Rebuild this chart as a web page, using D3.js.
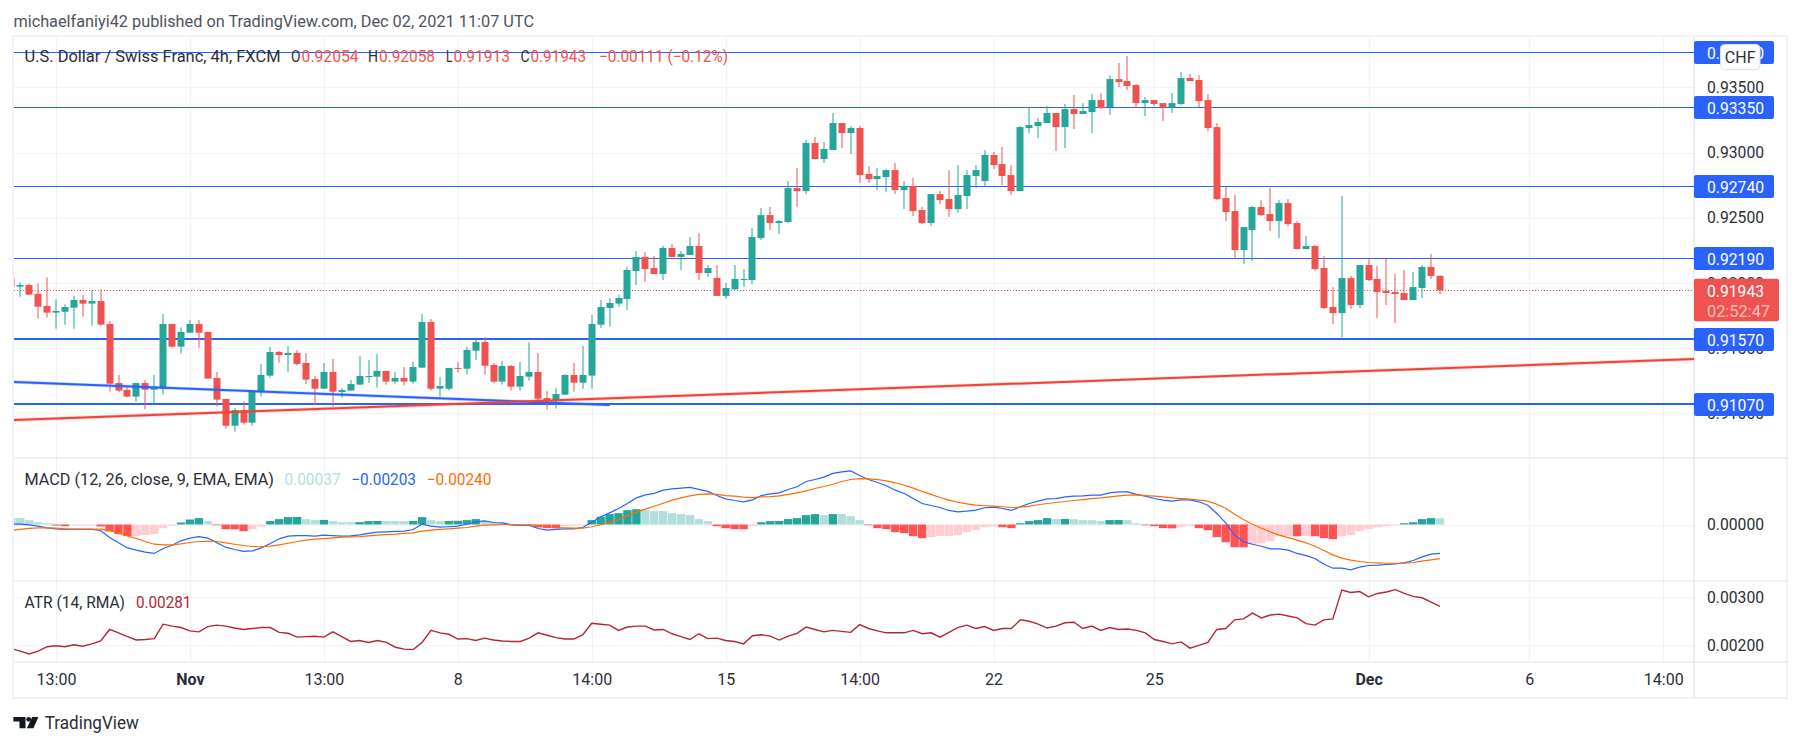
<!DOCTYPE html>
<html>
<head>
<meta charset="utf-8">
<script src="https://cdn.jsdelivr.net/npm/d3@7/dist/d3.min.js"></script>
<style>
  body { margin: 0; background: #fff; }
  text { font-family: Roboto, sans-serif; }
</style>
</head>
<body>
<svg id="chart" width="1802" height="746"></svg>
<script>
// bar numbers: first entry is the cut off bar at the left edge (-1), last is 159
const firstBar = -1;

// prices, in 1/100000
const opens = [92043,
  91971,91984,91915,91823,91772,91779,91810,91869,91841,91861,
  91685,91232,91179,91128,91232,91181,91189,91685,91511,91618,
  91685,91624,91271,91110,90905,91025,90928,91163,91289,91470,
  91447,91463,91386,91263,91189,91317,91163,91174,91220,91278,
  91281,91325,91243,91271,91243,91350,91700,91189,91189,91348,
  91342,91480,91547,91371,91243,91363,91204,91281,91317,91117,
  91102,91143,91294,91235,91289,91680,91808,91841,91877,92091,
  92199,92114,92068,92268,92199,92214,92283,92076,92038,91900,
  91951,92022,92022,92344,92520,92459,92467,92727,92704,93073,
  92950,93019,93226,93149,93188,92835,92796,92812,92865,92712,
  92743,92559,92459,92681,92643,92566,92666,92820,92781,92981,
  92911,92827,92704,93188,93203,93226,93303,93195,93333,93295,
  93310,93402,93349,93563,93548,93517,93379,93402,93379,93346,
  93372,93571,93556,93402,93195,92651,92551,92252,92405,92582,
  92528,92474,92612,92459,92260,92283,92114,91815,91769,92037,
  91830,92137,92030,91938,91930,91922,91869,91961,92122,92054];
const highs = [92043,
  92004,91997,91997,92043,91874,91836,91900,91907,91946,91951,
  91708,91294,91199,91232,91255,91294,91762,91685,91659,91716,
  91716,91624,91317,91110,91041,91092,91179,91378,91509,91478,
  91516,91486,91463,91286,91386,91417,91194,91255,91440,91409,
  91455,91325,91317,91355,91394,91762,91723,91278,91348,91394,
  91509,91570,91585,91386,91401,91371,91394,91547,91463,91171,
  91194,91299,91386,91516,91754,91869,91884,91907,92122,92245,
  92237,92206,92283,92298,92245,92352,92383,92137,92137,92000,
  92137,92107,92421,92574,92582,92482,92781,92881,93096,93119,
  93080,93303,93226,93203,93203,92896,92881,92873,92919,92781,
  92804,92582,92681,92704,92865,92904,92865,92904,93019,93004,
  93042,92904,93203,93346,93264,93356,93303,93372,93441,93379,
  93448,93456,93594,93686,93740,93525,93425,93402,93379,93456,
  93617,93602,93594,93448,93226,92735,92674,92428,92589,92635,
  92727,92635,92643,92474,92359,92290,92206,91968,92666,92053,
  92137,92183,92129,92183,92068,92099,92083,92137,92221,92058];
const lows = [91971,
  91894,91907,91726,91733,91649,91680,91649,91741,91672,91672,
  91166,91161,91123,91089,91031,91066,91143,91503,91457,91618,
  91503,91266,91051,90882,90859,90913,90905,91128,91273,91388,
  91317,91365,91225,91064,91189,91051,91120,91171,91217,91232,
  91197,91220,91227,91212,91227,91348,91174,91128,91174,91312,
  91296,91409,91296,91232,91220,91174,91174,91250,91102,91028,
  91036,91143,91166,91189,91189,91654,91664,91815,91792,91984,
  92007,92068,92022,92199,92099,92214,92022,92045,91900,91877,
  91946,91969,91991,92329,92405,92375,92459,92582,92681,92950,
  92919,93019,93034,92988,92766,92766,92712,92697,92681,92566,
  92513,92451,92436,92605,92505,92536,92566,92727,92740,92873,
  92750,92674,92704,93149,93111,93226,93011,93034,93180,93295,
  93149,93333,93287,93502,93479,93341,93280,93356,93241,93303,
  93364,93548,93349,93165,92635,92474,92191,92145,92168,92513,
  92398,92344,92436,92260,92260,92091,91800,91685,91582,91800,
  91807,92014,91731,91830,91692,91869,91869,91884,92030,91913];
const closes = [91971,
  91984,91910,91818,91772,91785,91815,91869,91841,91861,91680,
  91227,91174,91128,91232,91181,91197,91685,91511,91624,91685,
  91618,91266,91105,90905,91025,90928,91169,91294,91470,91447,
  91463,91378,91258,91189,91317,91166,91179,91225,91286,91286,
  91325,91243,91271,91243,91355,91700,91189,91209,91348,91342,
  91486,91547,91365,91243,91363,91204,91286,91317,91112,91097,
  91148,91294,91235,91294,91685,91815,91846,91884,92099,92199,
  92107,92068,92268,92199,92222,92283,92076,92114,91900,91961,
  92030,92030,92352,92520,92459,92474,92727,92704,93073,92950,
  93027,93226,93149,93188,92827,92796,92820,92865,92712,92743,
  92551,92459,92681,92635,92566,92674,92827,92865,92981,92904,
  92820,92704,93195,93211,93234,93303,93195,93333,93295,93318,
  93402,93341,93563,93540,93510,93379,93402,93372,93346,93379,
  93571,93548,93395,93188,92643,92543,92252,92428,92582,92520,
  92474,92612,92451,92260,92283,92106,91807,91769,92037,91830,
  92137,92022,91930,91922,91915,91869,91968,92122,92053,91943];

// indicators, in 1/100000
const macdHist = [47,
  47,31,16,9,-7,-12,-7,-7,-7,-14,
  -49,-68,-82,-82,-75,-68,-26,-7,14,35,
  45,24,-5,-33,-34,-47,-33,-14,24,38,
  52,53,38,31,32,24,16,16,17,24,
  25,24,24,24,25,52,31,24,25,26,
  31,38,24,14,9,-5,-5,-7,-21,-26,
  -27,-12,-9,-9,31,54,73,80,101,108,
  101,94,94,80,73,66,38,24,-12,-26,
  -33,-34,-12,16,24,25,38,45,66,73,
  66,73,73,59,31,-5,-26,-33,-54,-61,
  -82,-96,-89,-82,-82,-75,-54,-40,-19,-14,
  -19,-26,9,24,31,45,38,39,38,31,
  31,24,31,32,31,9,-5,-12,-26,-27,
  -19,-12,-26,-40,-89,-125,-160,-161,-139,-132,
  -118,-82,-82,-83,-82,-83,-96,-103,-82,-75,
  -47,-33,-19,-12,-5,9,16,38,45,44];
const macdLine = [2,
  2,-2,-12,-24,-31,-35,-35,-35,-35,-42,
  -92,-129,-165,-181,-195,-204,-169,-146,-115,-96,
  -85,-96,-129,-160,-176,-190,-186,-165,-134,-101,
  -82,-78,-78,-82,-75,-78,-82,-80,-73,-63,
  -54,-52,-49,-47,-35,2,-12,-19,-16,-12,
  2,19,26,14,12,-2,-7,-7,-28,-40,
  -35,-31,-31,-21,16,54,82,113,148,188,
  209,219,242,251,256,261,247,233,204,181,
  169,160,174,204,216,223,247,266,303,317,
  334,360,371,378,345,317,296,273,242,219,
  183,148,134,120,99,89,94,101,118,122,
  113,99,125,148,165,181,183,195,200,202,
  207,207,223,230,230,212,200,183,172,165,
  174,174,160,136,78,12,-75,-122,-139,-153,
  -172,-172,-181,-204,-219,-240,-280,-308,-308,-320,
  -301,-289,-287,-282,-277,-270,-254,-228,-209,-203];
const signalLine = [-42,
  -35,-28,-24,-24,-26,-31,-33,-33,-33,-33,
  -42,-59,-80,-99,-120,-139,-143,-143,-136,-127,
  -120,-118,-120,-129,-139,-148,-155,-157,-153,-143,
  -132,-120,-110,-103,-99,-94,-89,-87,-85,-80,
  -75,-71,-68,-63,-59,-47,-40,-35,-31,-26,
  -21,-12,-5,-2,0,0,-2,-2,-7,-16,
  -21,-24,-26,-26,-16,-2,12,35,61,87,
  108,129,150,172,188,202,212,216,212,204,
  200,193,190,195,197,202,212,223,237,254,
  268,284,303,317,324,322,317,308,294,277,
  256,233,212,190,172,157,146,136,132,129,
  125,120,122,129,139,148,155,162,169,176,
  183,188,195,202,207,209,204,200,195,188,
  183,179,172,165,143,115,73,35,2,-26,
  -52,-75,-92,-110,-129,-153,-183,-214,-237,-251,
  -261,-268,-270,-273,-273,-273,-268,-258,-249,-240];
const atrLine = [193,
  188,182,188,197,199,197,201,198,203,209,
  233,226,218,211,212,214,244,240,237,230,
  228,239,242,240,236,233,235,237,237,227,
  225,217,218,219,217,228,218,208,210,206,
  210,206,196,192,191,206,231,226,223,213,
  214,210,215,211,209,208,208,215,226,221,
  216,213,213,222,246,244,242,231,238,240,
  240,232,233,224,218,212,224,214,215,210,
  208,203,220,222,219,211,219,225,238,233,
  228,231,229,227,243,235,230,226,226,226,
  231,224,226,217,227,237,242,235,239,231,
  235,235,253,250,244,236,240,247,248,235,
  240,231,237,233,234,231,226,212,208,203,
  207,194,200,206,233,235,253,255,267,257,
  263,265,261,257,245,242,253,255,315,310,
  312,301,308,311,316,308,302,299,290,281];

// drawn levels and trend lines
const levels = [0.9377, 0.9335, 0.9274, 0.9219, 0.9157, 0.9107];
const heavyLevels = [0.9157, 0.9107];
const trendRed = [[-0.7, 0.90949], [187.5, 0.91416]];
const trendBlue = [[-0.7, 0.9124], [66, 0.91064]];
const lastPrice = 0.91943;

// ticks
const priceTicks = [0.935, 0.93, 0.925, 0.92, 0.915, 0.91];
const macdTicks = [0];
const atrTicks = [0.003, 0.002];
const timeBars = [4, 19, 34, 49, 64, 79, 94, 109, 127, 151, 169, 184];
const timeLabels = ['13:00', 'Nov', '13:00', '8', '14:00', '15', '14:00', '22', '25', 'Dec', '6', '14:00'];
const boldLabels = ['Nov', 'Dec'];

const UP = '#26a69a', DOWN = '#ef5350', BLUE = '#2962ff', INK = '#2a2e39', GRID = '#f0f3fa', LINE = '#e0e3eb';
const FONT = 16, ATR = '#b22833';
const left = 14, right = 1694;
const svg = d3.select('#chart');

const bars = opens.map((o, i) => ({
  bar: firstBar + i, o: o / 1e5, h: highs[i] / 1e5, l: lows[i] / 1e5, c: closes[i] / 1e5,
  hist: macdHist[i] / 1e5, macd: macdLine[i] / 1e5, signal: signalLine[i] / 1e5, atr: atrLine[i] / 1e5
}));

const x = d3.scaleLinear().domain([-1, 159]).range([11.37, 1440]);
const yPrice = d3.scaleLinear().domain([0.935, 0.91]).range([87.3, 413.3]);
const yMacd = d3.scaleLinear().domain([0, -0.00203]).range([524.5, 553.3]);
const yAtr = d3.scaleLinear().domain([0.003, 0.002]).range([597.3, 645.3]);
const crisp = v => Math.round(v) + 0.5;

svg.append('clipPath').attr('id', 'plot').append('rect')
  .attr('x', left).attr('y', 37).attr('width', right - left).attr('height', 625);

// frame and pane lines
svg.append('rect').attr('x', 13).attr('y', 36).attr('width', 1774).attr('height', 662)
  .attr('fill', 'none').attr('stroke', GRID).attr('stroke-width', 2);

// grid
const grid = svg.append('g').attr('stroke', GRID).attr('stroke-width', 1);
timeBars.forEach(b => {
  grid.append('line').attr('x1', crisp(x(b))).attr('x2', crisp(x(b))).attr('y1', 37).attr('y2', 662);
});
function hgrid(scale, ticks) {
  ticks.forEach(t => {
    grid.append('line').attr('x1', left).attr('x2', right).attr('y1', crisp(scale(t))).attr('y2', crisp(scale(t)));
  });
}
hgrid(yPrice, priceTicks);
hgrid(yMacd, macdTicks);
hgrid(yAtr, atrTicks);

[458, 581, 662].forEach(y => {
  svg.append('line').attr('x1', left).attr('x2', 1787).attr('y1', y).attr('y2', y)
    .attr('stroke', LINE).attr('stroke-width', 1.2);
});
svg.append('line').attr('x1', right).attr('x2', right).attr('y1', 37).attr('y2', 698)
  .attr('stroke', LINE).attr('stroke-width', 1.2);

const plot = svg.append('g').attr('clip-path', 'url(#plot)');

// horizontal levels
levels.forEach(l => {
  const heavy = heavyLevels.includes(l);
  const y = heavy ? Math.round(yPrice(l)) : crisp(yPrice(l));
  plot.append('line').attr('x1', left).attr('x2', right).attr('y1', y).attr('y2', y)
    .attr('stroke', BLUE).attr('stroke-width', heavy ? 2 : 1);
});

// current price
plot.append('line').attr('x1', left).attr('x2', right)
  .attr('y1', crisp(yPrice(lastPrice))).attr('y2', crisp(yPrice(lastPrice)))
  .attr('stroke', DOWN).attr('stroke-dasharray', '1 2');

// candles
const candle = plot.append('g').selectAll('g').data(bars).join('g')
  .attr('fill', d => d.c >= d.o ? UP : DOWN)
  .attr('stroke', 'none');
candle.append('rect')
  .attr('x', d => Math.round(x(d.bar)) - 0.5)
  .attr('width', 1)
  .attr('y', d => yPrice(d.h))
  .attr('height', d => yPrice(d.l) - yPrice(d.h));
candle.append('rect')
  .attr('x', d => Math.round(x(d.bar)) - 3.5)
  .attr('width', 7)
  .attr('y', d => yPrice(Math.max(d.o, d.c)))
  .attr('height', d => Math.max(1, Math.abs(yPrice(d.o) - yPrice(d.c))));

// trend lines
const trend = d3.line().x(d => x(d[0])).y(d => yPrice(d[1]));
[[trendBlue, BLUE], [trendRed, '#f44336']].forEach(([pts, col]) => {
  plot.append('path').attr('d', trend(pts)).attr('fill', 'none')
    .attr('stroke', col).attr('stroke-width', 3.4).attr('stroke-opacity', 0.25);
  plot.append('path').attr('d', trend(pts)).attr('fill', 'none')
    .attr('stroke', col).attr('stroke-width', 2);
});

// macd histogram
const histColor = (d, i) => {
  const prev = i > 0 ? bars[i - 1].hist : d.hist;
  if (d.hist >= 0) return d.hist > prev ? UP : '#b2dfdb';
  return d.hist < prev ? '#ff5252' : '#ffcdd2';
};
plot.append('g').selectAll('rect').data(bars).join('rect')
  .attr('x', d => x(d.bar) - 4.2)
  .attr('width', 8.4)
  .attr('y', d => Math.min(yMacd(d.hist), yMacd(0)))
  .attr('height', d => Math.abs(yMacd(d.hist) - yMacd(0)))
  .attr('fill', histColor);

// indicator lines
function drawLine(key, scale, col, w) {
  plot.append('path')
    .attr('d', d3.line().x(d => x(d.bar)).y(d => scale(d[key]))(bars))
    .attr('fill', 'none').attr('stroke', col).attr('stroke-width', w);
}
drawLine('macd', yMacd, BLUE, 1.2);
drawLine('signal', yMacd, '#ff6d00', 1.2);
drawLine('atr', yAtr, ATR, 1.4);

// axes
function styleAxis(g) {
  g.select('.domain').remove();
  g.selectAll('.tick line').remove();
  g.selectAll('text').attr('font-family', 'Roboto, sans-serif').attr('font-size', FONT).attr('fill', INK);
}
function priceAxis(scale, ticks) {
  svg.append('g').attr('transform', 'translate(1707,0)')
    .call(d3.axisRight(scale).tickValues(ticks).tickFormat(d3.format('.5f')).tickSize(0).tickPadding(0))
    .call(styleAxis)
    .selectAll('text').attr('textLength', 57).attr('lengthAdjust', 'spacingAndGlyphs');
}
priceAxis(yPrice, priceTicks);
priceAxis(yMacd, macdTicks);
priceAxis(yAtr, atrTicks);
svg.append('g').attr('transform', 'translate(0,673.5)')
  .call(d3.axisBottom(x).tickValues(timeBars).tickFormat((d, i) => timeLabels[i]).tickSize(0).tickPadding(0))
  .call(styleAxis)
  .selectAll('text')
  .attr('font-weight', (d, i) => boldLabels.includes(timeLabels[i]) ? 700 : 400);

// price labels
levels.forEach(l => {
  const y = crisp(yPrice(l));
  svg.append('rect').attr('x', right).attr('y', y - 11.5).attr('width', 80).attr('height', 23)
    .attr('rx', 2).attr('fill', BLUE);
  svg.append('text').attr('x', 1707).attr('y', y + 0.5).attr('dy', '0.35em')
    .attr('font-size', FONT).attr('fill', '#fff')
    .attr('textLength', 57).attr('lengthAdjust', 'spacingAndGlyphs').text(l.toFixed(5));
});
svg.append('rect').attr('x', right).attr('y', 278.7).attr('width', 85).attr('height', 42.5)
  .attr('rx', 2).attr('fill', DOWN);
svg.append('text').attr('x', 1707).attr('y', 291.7).attr('dy', '0.35em')
  .attr('font-size', FONT).attr('fill', '#fff')
  .attr('textLength', 57).attr('lengthAdjust', 'spacingAndGlyphs').text(lastPrice.toFixed(5));
svg.append('text').attr('x', 1707).attr('y', 311).attr('dy', '0.35em')
  .attr('font-size', FONT).attr('fill', '#fff').attr('fill-opacity', 0.65)
  .attr('textLength', 63).attr('lengthAdjust', 'spacingAndGlyphs').text('02:52:47');

// CHF button
svg.append('rect').attr('x', 1720.5).attr('y', 44.5).attr('width', 39.5).attr('height', 25)
  .attr('rx', 4).attr('fill', '#fff').attr('stroke', LINE);
svg.append('text').attr('x', 1740.2).attr('y', 57).attr('dy', '0.35em').attr('text-anchor', 'middle')
  .attr('font-size', FONT).attr('fill', INK).text('CHF');

// legends: text, start x, end x, y, colour
const legend = [
  ['michaelfaniyi42 published on TradingView.com, Dec 02, 2021 11:07 UTC', 13.4, 534, 21, '#50535e'],
  ['U.S. Dollar / Swiss Franc, 4h, FXCM', 24.5, 280.5, 56.7, INK],
  ['O', 291, 300.5, 56.7, INK], ['0.92054', 301.6, 358.6, 56.7, DOWN],
  ['H', 368, 378, 56.7, INK], ['0.92058', 379, 435, 56.7, DOWN],
  ['L', 446, 452.5, 56.7, INK], ['0.91913', 453.5, 510, 56.7, DOWN],
  ['C', 520.5, 529.5, 56.7, INK], ['0.91943', 530.4, 586, 56.7, DOWN],
  ['\u22120.00111 (\u22120.12%)', 599, 728, 56.7, DOWN],
  ['MACD (12, 26, close, 9, EMA, EMA)', 24.5, 274, 479.3, INK],
  ['0.00037', 284.4, 340.6, 479.3, '#b2dfdb'],
  ['\u22120.00203', 351.3, 416, 479.3, BLUE],
  ['\u22120.00240', 426.7, 491.4, 479.3, '#ff6d00'],
  ['ATR (14, RMA)', 24.5, 125, 602.7, INK],
  ['0.00281', 135.9, 191.4, 602.7, ATR]
];
legend.forEach(([t, x0, x1, y, col]) => {
  svg.append('text').attr('x', x0).attr('y', y).attr('dy', '0.35em')
    .attr('font-size', FONT).attr('fill', col)
    .attr('textLength', x1 - x0).attr('lengthAdjust', 'spacingAndGlyphs').text(t);
});

// TradingView logo
const logo = svg.append('g').attr('fill', '#131722');
logo.append('path').attr('d', 'M13.4 717H25.5V728.3H19.5V721.5H13.4Z');
logo.append('circle').attr('cx', 28.7).attr('cy', 719.3).attr('r', 2.4);
logo.append('path').attr('d', 'M32.2 717H38.4L33.4 728.3H26.8Z');
svg.append('text').attr('x', 44.8).attr('y', 723).attr('dy', '0.35em')
  .attr('font-size', 18).attr('fill', INK)
  .attr('textLength', 94).attr('lengthAdjust', 'spacingAndGlyphs').text('TradingView');
</script>
</body>
</html>
